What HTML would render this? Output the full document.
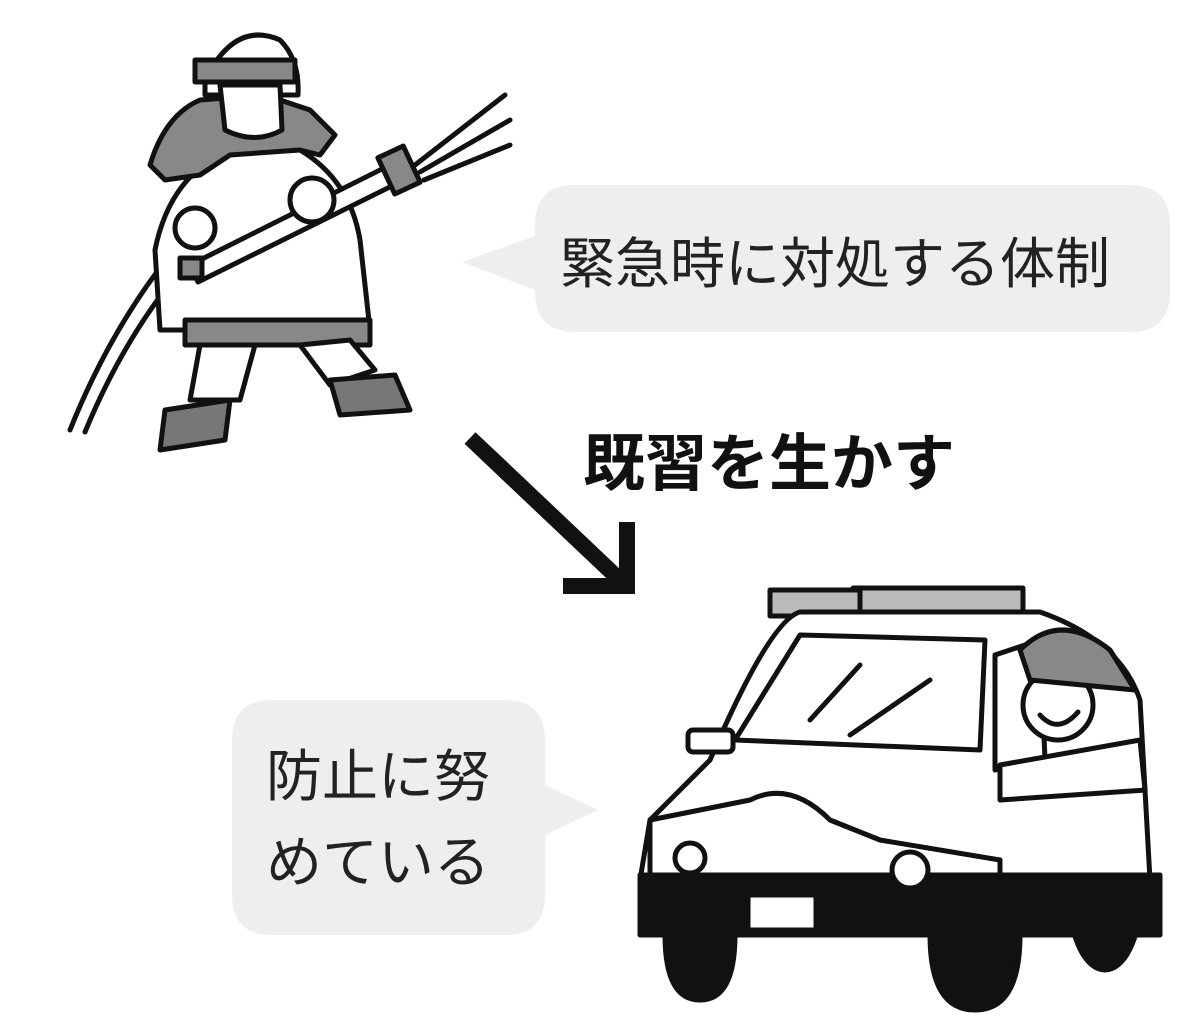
<!DOCTYPE html>
<html><head><meta charset="utf-8"><style>
html,body{margin:0;padding:0;background:#fff;}
svg{display:block}
</style></head><body>
<svg width="1200" height="1021" viewBox="0 0 1200 1021" xmlns="http://www.w3.org/2000/svg">
<!-- top bubble -->
<path d="M575,185 H1130 Q1170,185 1170,225 V292 Q1170,332 1130,332 H575 Q535,332 535,292 V290 L462,262 L535,236 V225 Q535,185 575,185 Z" fill="#eeeeee"/>
<text x="560" y="283" font-family="Liberation Sans, Noto Sans CJK JP, sans-serif" font-size="55" fill="#222">緊急時に対処する体制</text>
<!-- bottom bubble -->
<path d="M272,700 H505 Q545,700 545,740 V785 L598,810 L545,835 V895 Q545,935 505,935 H272 Q232,935 232,895 V740 Q232,700 272,700 Z" fill="#eeeeee"/>
<text x="266" y="796" font-family="Liberation Sans, Noto Sans CJK JP, sans-serif" font-size="56" fill="#222">防止に努</text>
<text x="266" y="882" font-family="Liberation Sans, Noto Sans CJK JP, sans-serif" font-size="56" fill="#222">めている</text>
<!-- heading -->
<text x="583" y="485" font-family="Liberation Sans, Noto Sans CJK JP, sans-serif" font-size="62" font-weight="bold" fill="#111">既習を生かす</text>
<!-- arrow -->
<g stroke="#111" stroke-width="16" fill="none" stroke-linecap="butt">
<line x1="470" y1="438" x2="622" y2="582"/>
<polyline points="563,586 627,586 627,522" stroke-linejoin="miter"/>
</g>
<!-- firefighter -->
<g stroke="#111" stroke-width="5" fill="#fff" stroke-linejoin="round" stroke-linecap="round">
<path d="M70,430 Q110,330 170,255" fill="none"/>
<path d="M85,432 Q125,335 185,265" fill="none"/>
<path d="M155,250 L160,330 L370,330 L360,240 Q350,180 300,150 L230,150 Q170,175 155,250 Z"/>
<rect x="185" y="320" width="185" height="25" fill="#888"/>
<path d="M200,345 L190,400 L240,400 L255,345 Z"/>
<path d="M300,345 L330,385 L375,370 L350,340 Z"/>
<path d="M165,410 L230,400 L225,440 L160,450 Z" fill="#777"/>
<path d="M330,380 L395,375 L410,410 L340,415 Z" fill="#777"/>
<path d="M150,165 Q165,115 200,100 L265,95 L310,110 L335,135 L320,155 L300,150 L230,155 L200,175 L165,180 Z" fill="#888"/>
<path d="M205,80 Q235,20 280,40 Q300,60 298,95 L205,95 Z"/>
<rect x="195" y="60" width="100" height="22" fill="#888"/>
<path d="M220,85 L280,85 L282,130 Q255,145 225,130 Z"/>
<path d="M190,265 L400,160 L408,178 L198,282 Z"/>
<rect x="385" y="150" width="28" height="40" fill="#888" transform="rotate(-25 399 170)"/>
<path d="M415,165 L505,95 M420,172 L510,120 M424,180 L510,145" fill="none"/>
<circle cx="195" cy="228" r="20"/>
<circle cx="312" cy="200" r="22"/>
<rect x="180" y="258" width="22" height="20" fill="#888"/>
</g>
<!-- police car -->
<g stroke="#111" stroke-width="5" fill="#fff" stroke-linejoin="round" stroke-linecap="round">
<rect x="853" y="588" width="170" height="28" fill="#bbb"/>
<rect x="770" y="590" width="90" height="26" fill="#bbb"/>
<ellipse cx="1105" cy="900" rx="35" ry="70" fill="#111"/>
<path d="M710,760 Q770,620 800,612 L1040,612 Q1120,640 1140,700 L1150,880 L640,880 L650,820 Z"/>
<path d="M735,740 L800,635 L985,640 L980,750 Z"/>
<path d="M995,655 L1040,640 L1045,760 L995,770 Z"/>
<path d="M810,720 L860,665 M850,735 L930,680" fill="none"/>
<rect x="688" y="730" width="45" height="22" rx="5"/>
<path d="M650,820 L750,800 Q790,780 830,820 L880,840 L1000,860 L1000,880 L650,880 Z"/>
<rect x="640" y="875" width="520" height="60" fill="#111"/>
<rect x="748" y="895" width="68" height="35" fill="#fff"/>
<circle cx="690" cy="858" r="15"/><circle cx="910" cy="870" r="18"/>
<path d="M665,935 Q665,1000 700,1000 Q735,1000 735,935 Z" fill="#111"/>
<path d="M930,935 Q930,1010 975,1010 Q1020,1010 1020,935 Z" fill="#111"/>
<circle cx="1058" cy="705" r="35"/>
<path d="M1020,650 Q1060,610 1110,650 L1135,690 L1030,680 Z" fill="#888"/>
<path d="M1040,715 Q1058,735 1078,712" fill="none"/>
<path d="M1000,765 L1140,740 L1145,790 L1000,800 Z"/>
</g>
</svg>
</body></html>
